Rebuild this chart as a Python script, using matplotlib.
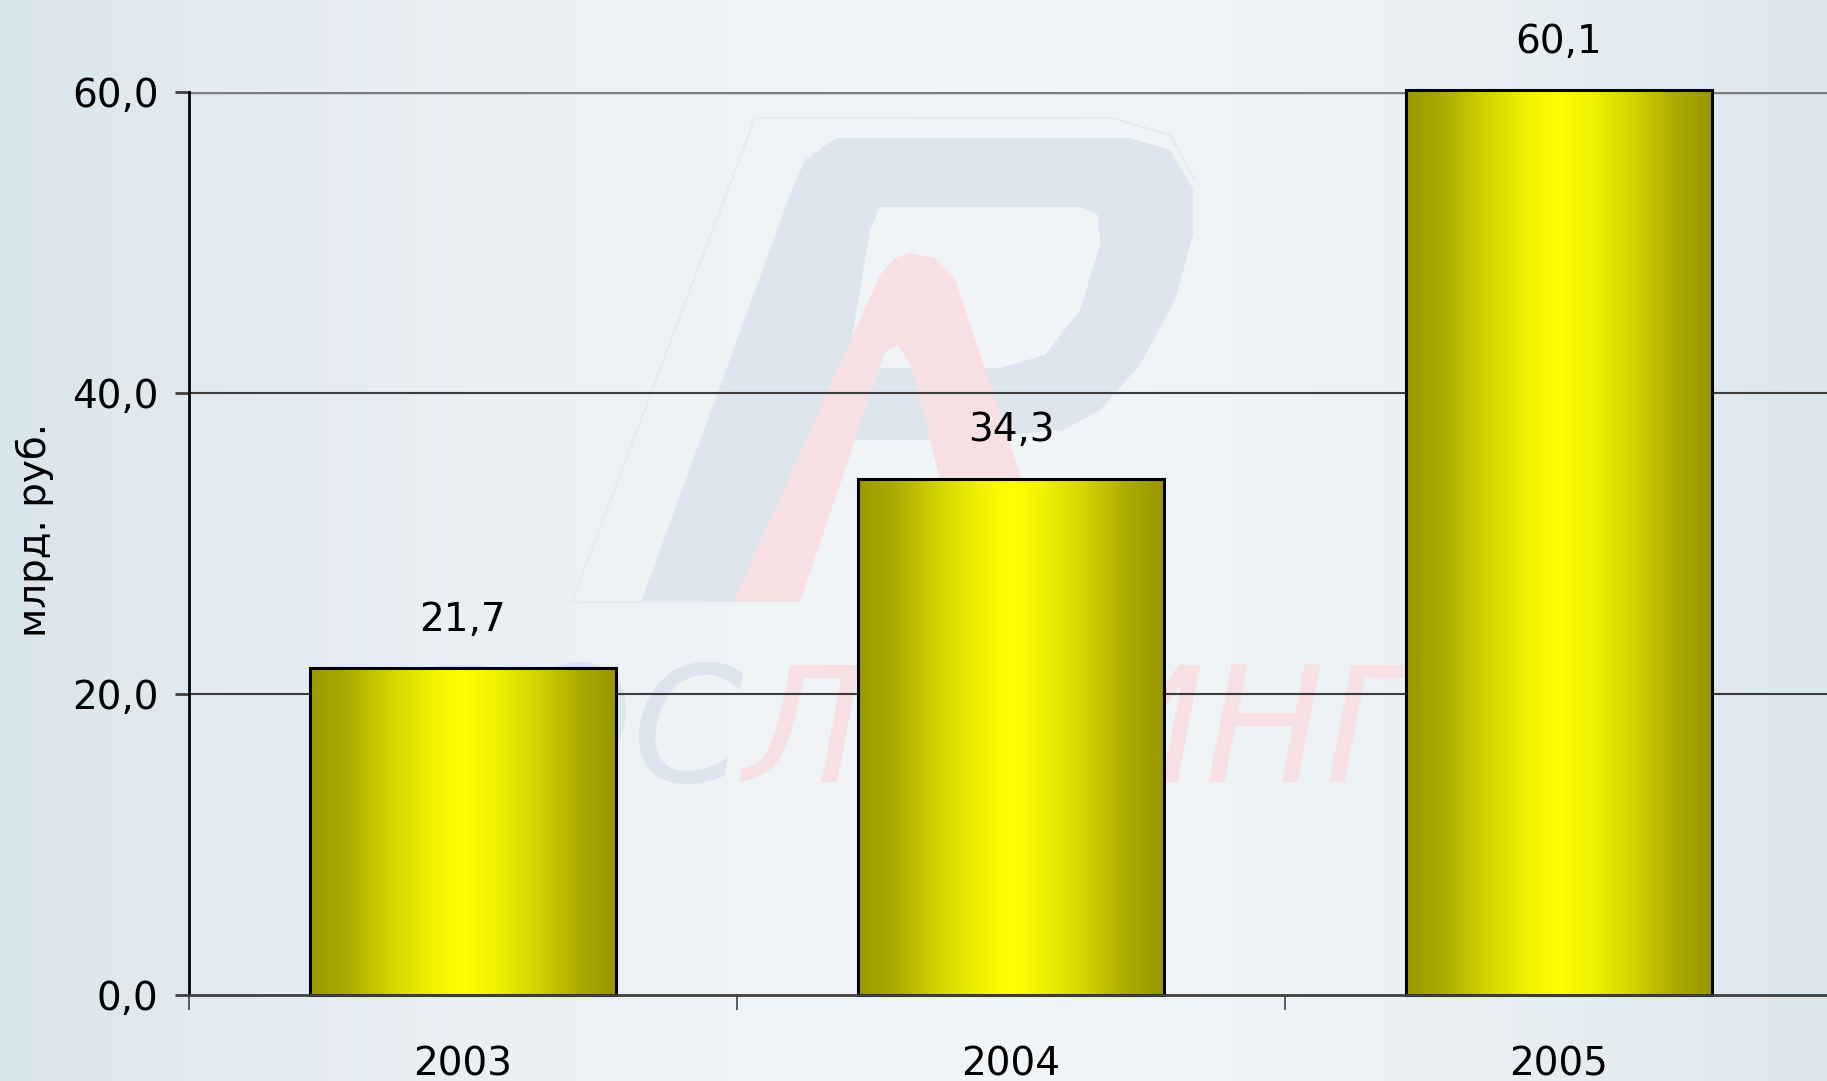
import numpy as np
import matplotlib
matplotlib.use("Agg")
import matplotlib.pyplot as plt
from matplotlib.colors import LinearSegmentedColormap
from matplotlib.path import Path
from matplotlib.patches import PathPatch

# ---------------- data ----------------
years = ["2003", "2004", "2005"]
values = [21.7, 34.3, 60.1]
value_labels = ["21,7", "34,3", "60,1"]
y_ticks = [0, 20, 40, 60]
y_tick_labels = ["0,0", "20,0", "40,0", "60,0"]
y_label = "млрд. руб."
watermark_parts = ["РОС", "ЛИЗИНГ"]

# ---------------- figure ----------------
W, H = 1827, 1081
fig = plt.figure(figsize=(W / 100, H / 100), dpi=100)
plt.rcParams["font.family"] = ["DejaVu Sans"]

# background gradient + faint logo watermark (pixel coordinates)
bg = fig.add_axes([0, 0, 1, 1], zorder=-10)
bg_cmap = LinearSegmentedColormap.from_list(
    "bg", [(0.0, "#d9e5ec"), (0.12, "#e3ebf1"), (0.35, "#eef2f5"),
           (0.55, "#f3f6f8"), (0.8, "#eaf0f4"), (1.0, "#dce7ee")])
bg.imshow(np.linspace(0, 1, 600)[None, :], aspect="auto", cmap=bg_cmap,
          extent=[0, W, H, 0])
bg.set_xlim(0, W)
bg.set_ylim(H, 0)
bg.axis("off")

def poly_path(outer, hole=None):
    verts = list(outer) + [outer[0]]
    codes = [Path.MOVETO] + [Path.LINETO] * (len(outer) - 1) + [Path.CLOSEPOLY]
    if hole is not None:
        h = list(hole)[::-1]
        verts += h + [h[0]]
        codes += [Path.MOVETO] + [Path.LINETO] * (len(h) - 1) + [Path.CLOSEPOLY]
    return Path(verts, codes)

# thin outline of logo
outline = [(572, 602), (755, 118), (1112, 118), (1170, 135), (1195, 180)]
bg.plot([p[0] for p in outline], [p[1] for p in outline], color="#e3eaf0", lw=1.5)
bg.plot([572, 700], [602, 602], color="#e3eaf0", lw=1.5)

p_outer = [(641, 602), (790, 195), (805, 160), (836, 138), (1130, 138), (1170, 150),
           (1193, 189), (1193, 235), (1175, 300), (1140, 365), (1100, 410),
           (1063, 430), (950, 440), (810, 440), (750, 602)]
p_hole = [(880, 207), (1080, 207), (1098, 215), (1100, 245), (1080, 310),
          (1045, 355), (1000, 368), (860, 368), (850, 350), (870, 230)]
bg.add_patch(PathPatch(poly_path(p_outer, p_hole), facecolor="#dde6ef",
                       edgecolor="none"))

a_outer = [(733, 602), (880, 275), (895, 258), (910, 253), (935, 258),
           (955, 278), (1035, 520), (950, 520), (912, 368), (898, 345),
           (885, 352), (800, 602)]
bg.add_patch(PathPatch(poly_path(a_outer), facecolor="#f6e0e4", edgecolor="none"))

fig.text(744 / W, 1 - 782 / H, watermark_parts[0], fontsize=115, style="italic",
         color="#dce5ee", ha="right", va="baseline", zorder=-5)
fig.text(744 / W, 1 - 782 / H, watermark_parts[1], fontsize=115, style="italic",
         color="#f6e0e4", ha="left", va="baseline", zorder=-5)

# ---------------- main axes ----------------
ax = fig.add_axes([189 / W, 1 - 995 / H, 1644 / W, (995 - 92) / H])
ax.patch.set_alpha(0)

x = np.arange(len(years))
bar_w = 0.558
bars = ax.bar(x, values, width=bar_w, facecolor="none", edgecolor="black",
              linewidth=2.2, zorder=4, clip_on=False)

bar_cmap = LinearSegmentedColormap.from_list(
    "bar", [(0.0, "#9a9a00"), (0.12, "#abab00"), (0.27, "#d6d600"),
            (0.4, "#f2f200"), (0.5, "#ffff00"), (0.6, "#f2f200"),
            (0.75, "#d2d200"), (0.88, "#abab00"), (1.0, "#979700")])
grad = np.linspace(0, 1, 256)[None, :]
for rect in bars:
    x0 = rect.get_x()
    im = ax.imshow(grad, aspect="auto", cmap=bar_cmap,
                   extent=[x0, x0 + rect.get_width(), 0, rect.get_height()],
                   zorder=3, interpolation="bicubic")
    im.set_clip_path(rect)

ax.set_xlim(-0.5, len(years) - 0.5)
ax.set_ylim(0, 60)

# value labels
for xi, v, lab in zip(x, values, value_labels):
    ax.annotate(lab, (xi, v), xytext=(0, 27), textcoords="offset points",
                ha="center", va="baseline", fontsize=28, color="black",
                annotation_clip=False)

# gridlines
for yv in y_ticks[1:-1]:
    ax.axhline(yv, color="#3c3c3c", lw=1.5, zorder=1)
ax.axhline(y_ticks[-1], color="#7c7c7c", lw=2.5, zorder=1)

# spines
for s in ["top", "right"]:
    ax.spines[s].set_visible(False)
ax.spines["left"].set_color("black")
ax.spines["left"].set_linewidth(2)
ax.spines["bottom"].set_color("#404040")
ax.spines["bottom"].set_linewidth(2)
ax.spines["bottom"].set_zorder(5)

# y ticks
ax.set_yticks(y_ticks)
ax.set_yticklabels(y_tick_labels, fontsize=28)
ax.tick_params(axis="y", direction="out", length=10, width=2, color="#404040",
               pad=12)

# x ticks: boundaries as major ticks, labels on minor ticks
ax.set_xticks(np.arange(len(years) + 1) - 0.5)
ax.set_xticklabels([])
ax.tick_params(axis="x", which="major", direction="out", length=11, width=1.2,
               color="#404040")
ax.set_xticks(x, minor=True)
ax.set_xticklabels(years, minor=True, fontsize=28)
ax.tick_params(axis="x", which="minor", length=0, pad=36)

# y label
fig.text(35 / W, 1 - 530 / H, y_label, rotation=90, fontsize=28,
         ha="center", va="center")

fig.savefig("out.png", dpi=100)
